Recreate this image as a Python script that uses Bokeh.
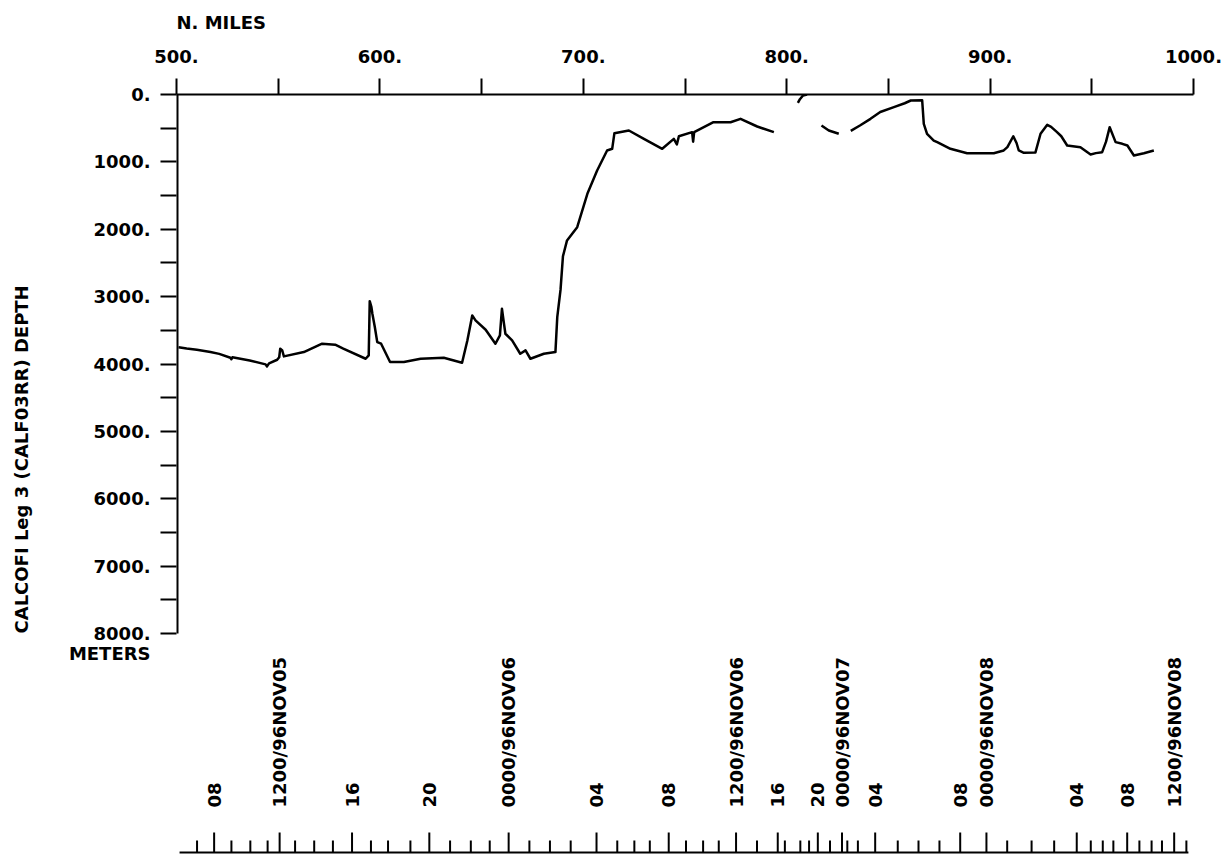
import math
from bokeh.plotting import figure
from bokeh.models import Range1d, LinearAxis, FixedTicker, Title
from bokeh.core.properties import value
from bokeh.embed import file_html
from bokeh.resources import INLINE

NAN = float("nan")

# ---- bathymetry track (distance in nautical miles, depth in meters) ----
miles = [
    501, 505, 510, 516.7, 521, 526.5, 527, 527.5, 536, 543.8, 544.5, 545.5,
    549.5, 550.5, 551, 552, 552.8, 562.6, 571.6, 578, 582, 593, 594.5, 595,
    595.8, 596.3, 597.5, 598.7, 600.6, 605, 611.8, 620, 631.4, 640.4, 643,
    645.4, 647, 652, 656.8, 659, 660, 661, 661.7, 665, 669, 671.6, 674,
    680.6, 686.3, 687.2, 688.8, 690, 692, 697, 702, 706.8, 711.7, 714.2,
    715.3, 722.4, 729.8, 738.8, 744.5, 746, 747, 753.5, 754, 754.5, 764,
    772.4, 777.3, 785.5, 793.7,
    NAN,
    805.5, 806.5, 808, 810,
    NAN,
    817.1, 820.7, 825.6,
    NAN,
    831.5, 836, 841.2, 846, 852.7, 858, 861, 866.6, 867.4, 869, 872.3, 874,
    880.5, 888.7, 898.6, 901.8, 906.7, 908.5, 911.4, 913, 914.1, 916.6,
    922.3, 924.8, 928.1, 930, 932.9, 935, 937.9, 944.4, 949.4, 952, 955.1,
    957, 958.8, 961.7, 965, 967.5, 970.7, 975.6, 980.5,
]
depth = [
    3750, 3770, 3790, 3823, 3850, 3907, 3930, 3900, 3947, 4006, 4036, 3990,
    3937, 3900, 3773, 3800, 3887, 3823, 3699, 3714, 3773, 3922, 3872, 3067,
    3150, 3254, 3450, 3675, 3699, 3971, 3971, 3922, 3907, 3981, 3650,
    3279, 3353, 3491, 3699, 3576, 3180, 3400, 3551, 3650, 3848, 3798, 3922,
    3848, 3823, 3304, 2900, 2400, 2166, 1969, 1474, 1128, 831, 806,
    574, 534, 658, 806, 658, 740, 620, 559, 700, 560, 411,
    411, 361, 475, 559,
    NAN,
    125, 70, 15, 0,
    NAN,
    460, 534, 583,
    NAN,
    540, 460, 361, 260, 188, 130, 89, 85, 435, 583, 683, 707,
    806, 871, 871, 871, 830, 780, 620, 720, 831, 866,
    860, 583, 450, 480, 559, 620, 757, 782, 890, 870, 856,
    700, 485, 707, 732, 757, 905, 871, 831,
]

# ---- distance axis (top) ----
mile_ticks = [500, 600, 700, 800, 900, 1000]
mile_minor = [550, 650, 750, 850, 950]
mile_labels = ["500.", "600.", "700.", "800.", "900.", "1000."]

# ---- depth axis (left); the unit name sits as a label under 8000 ----
depth_ticks = [0, 1000, 2000, 3000, 4000, 5000, 6000, 7000, 8000]
depth_minor = [0, 500, 1000, 1500, 2000, 2500, 3000, 3500, 4000, 4500,
               5000, 5500, 6000, 6500, 7000, 7500, 8000]
depth_labels = ["0.", "1000.", "2000.", "3000.", "4000.", "5000.", "6000.", "7000.", "8000."]
depth_axis_end = 8000
unit_label = "METERS"
unit_label_depth = 8290

# ---- time axis (bottom), positions in miles along the track ----
time_major = [518.5, 550.7, 586.3, 624.3, 663.3, 706.5, 742.0, 775.1, 795.6,
              815.3, 827.2, 843.5, 885.3, 898.2, 942.6, 967.4, 990.5]
time_labels = ["08", "1200/96NOV05", "16", "20", "0000/96NOV06", "04", "08",
               "1200/96NOV06", "16", "20", "0000/96NOV07", "04", "08",
               "0000/96NOV08", "04", "08", "1200/96NOV08"]
time_minor = [510.1, 527.0, 536.3, 544.8, 558.3, 567.7, 576.9, 595.6, 604.0,
              615.0, 634.5, 644.7, 654.0, 673.5, 683.6, 693.8, 716.7, 725.1,
              732.7, 750.5, 758.9, 766.6, 785.4, 799.1, 806.7, 811.0, 821.3,
              829.8, 835.0, 854.6, 864.8, 875.1, 908.4, 920.4, 931.5, 949.5,
              955.4, 960.6, 973.4, 979.4, 984.5, 996.5]
time_span = [501.5, 997.5]

# ---- layout constants (pixels) ----
FONT = "DejaVu Sans"
FSIZE = "18px"
W, H = 1225, 857
FL, FT, FR = 176, 94, 1193
PX_PER_M = (633 - 94) / 8000.0
PX_PER_MI = (FR - FL) / 500.0
y_end = (H - FT) / PX_PER_M


def depth_at(page_y):
    return (page_y - FT) / PX_PER_M


p = figure(width=W, height=H, output_backend="svg", toolbar_location=None,
           x_range=Range1d(500, 1000), y_range=Range1d(y_end, 0),
           x_axis_type=None, y_axis_type=None,
           min_border_left=FL, min_border_top=FT, min_border_right=W - FR,
           min_border_bottom=0)
p.outline_line_color = None
p.background_fill_color = "white"
p.border_fill_color = "white"

xa = LinearAxis(ticker=FixedTicker(ticks=mile_ticks, minor_ticks=mile_minor),
                bounds=(500, 1000))
xa.major_label_overrides = dict(zip(mile_ticks, mile_labels))
ya = LinearAxis(ticker=FixedTicker(ticks=depth_ticks + [unit_label_depth],
                                   minor_ticks=depth_minor))
ya.major_label_overrides = dict(zip(depth_ticks + [unit_label_depth],
                                    depth_labels + [unit_label]))
for ax in (xa, ya):
    ax.axis_line_width = 2
    ax.axis_line_color = "black"
    ax.major_tick_line_width = 2
    ax.minor_tick_line_width = 2
    ax.major_tick_line_color = "black"
    ax.minor_tick_line_color = "black"
    ax.major_tick_in = 0
    ax.minor_tick_in = 0
    ax.major_tick_out = 16
    ax.minor_tick_out = 16
    ax.major_label_text_font = FONT
    ax.major_label_text_font_style = "bold"
    ax.major_label_text_font_size = FSIZE
    ax.major_label_text_color = "black"
    ax.axis_label = " "          # blank spacer that widens the axis panel
    ax.axis_label_standoff = 0
# depth axis: tick marks come from the minor ticker, its line is drawn below
ya.major_tick_out = 0
ya.axis_line_color = None
xa.major_label_standoff = 16
ya.major_label_standoff = 10
xa.axis_label_text_font_size = "8px"
ya.axis_label_text_font_size = FSIZE
ya.axis_label_standoff = 9
p.add_layout(xa, "above")
p.add_layout(ya, "left")

p.add_layout(Title(text="N. MILES", align="left", standoff=3,
                   text_font=FONT, text_font_style="bold",
                   text_font_size=FSIZE, text_color="black"), "above")
p.add_layout(Title(text="CALCOFI Leg 3 (CALF03RR) DEPTH", align="left",
                   offset=H - 633, standoff=4,
                   text_font=FONT, text_font_style="bold",
                   text_font_size=FSIZE, text_color="black"), "left")

# depth axis line (from 0 to 8000 m)
p.segment(x0=[500], y0=[0], x1=[500], y1=[depth_axis_end],
          line_color="black", line_width=4)

# depth profile
p.line(miles, depth, line_color="black", line_width=2.5, line_join="round")

# time axis drawn along the bottom
axis_d = depth_at(852)
p.segment(x0=[time_span[0]], y0=[axis_d], x1=[time_span[1]], y1=[axis_d],
          line_color="black", line_width=2)
p.segment(x0=time_major, y0=[axis_d] * len(time_major), x1=time_major,
          y1=[axis_d - 20 / PX_PER_M] * len(time_major),
          line_color="black", line_width=2)
p.segment(x0=time_minor, y0=[axis_d] * len(time_minor), x1=time_minor,
          y1=[axis_d - 12 / PX_PER_M] * len(time_minor),
          line_color="black", line_width=2)
p.text(x=time_major, y=[depth_at(807)] * len(time_major), text=time_labels,
       angle=math.pi / 2, text_align="left", text_baseline="middle",
       text_font=value(FONT), text_font_style="bold",
       text_font_size=value(FSIZE), text_color="black")

open("out.html", "w").write(file_html(p, INLINE))
